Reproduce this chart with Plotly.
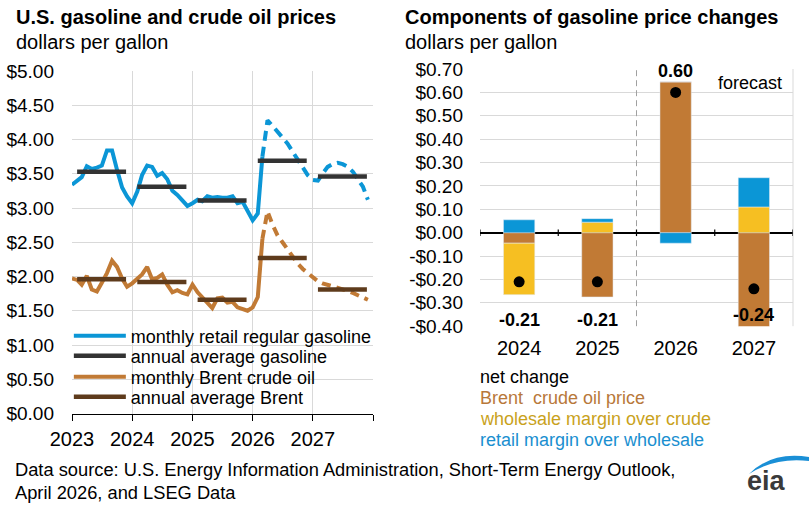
import pandas as pd
import plotly.graph_objects as go

# monthly prices, Jan 2023 - Dec 2027, dollars per gallon
gasoline = [
    3.34, 3.39, 3.45, 3.61, 3.57, 3.59, 3.62, 3.84, 3.84, 3.56, 3.30, 3.17,
    3.07, 3.24, 3.48, 3.62, 3.60, 3.47, 3.51, 3.42, 3.25, 3.19, 3.10, 3.03,
    3.07, 3.12, 3.10, 3.17, 3.15, 3.16, 3.15, 3.15, 3.17, 3.07, 3.09, 2.97,
    2.82, 2.92, 3.75, 4.28, 4.20, 4.11, 4.03, 3.94, 3.82, 3.70, 3.58, 3.48,
    3.41, 3.40, 3.50, 3.60, 3.64, 3.66, 3.64, 3.60, 3.53, 3.42, 3.31, 3.12,
]
brent = [
    1.97, 1.95, 1.88, 2.01, 1.81, 1.78, 1.91, 2.05, 2.23, 2.14, 1.97, 1.85,
    1.90, 1.97, 2.03, 2.14, 1.96, 1.98, 2.03, 1.88, 1.77, 1.80, 1.76, 1.74,
    1.88, 1.77, 1.70, 1.61, 1.54, 1.68, 1.69, 1.62, 1.63, 1.55, 1.53, 1.50,
    1.55, 1.70, 2.55, 2.95, 2.76, 2.60, 2.50, 2.39, 2.28, 2.19, 2.11, 2.05,
    1.99, 1.93, 1.90, 1.88, 1.86, 1.84, 1.82, 1.79, 1.76, 1.73, 1.69, 1.66,
]
last_history = 38  # March 2026

years = [2023, 2024, 2025, 2026, 2027]
gasoline_annual = [3.53, 3.31, 3.11, 3.69, 3.46]
brent_annual = [1.96, 1.92, 1.66, 2.27, 1.81]

# components of the year-over-year change in gasoline price
change_years = ["2024", "2025", "2026", "2027"]
brent_part = [-0.045, -0.275, 0.645, -0.475]
wholesale_part = [-0.22, 0.045, 0.0, 0.11]
retail_part = [0.055, 0.015, -0.045, 0.125]
net_change = [-0.21, -0.21, 0.60, -0.24]

BLUE = "#0b96d6"
GRAY = "#333333"
BROWN = "#c17a35"
DARK_BROWN = "#5e3b1c"
YELLOW = "#f6bf22"
GRID = "#d9d9d9"
FONT = "Liberation Sans, Arial, sans-serif"

W, H = 810, 515


def px(x, y):
    return f"{x / W:.4f},{1 - y / H:.4f}"


months = pd.date_range("2023-01-01", periods=len(gasoline), freq="MS")


def annual_segments(values):
    xs, ys = [], []
    for yr, v in zip(years, values):
        xs += [f"{yr}-02-01", f"{yr}-11-25", None]
        ys += [v, v, None]
    return xs, ys


fig = go.Figure()

gx, gy = annual_segments(gasoline_annual)
bx, by = annual_segments(brent_annual)

fig.add_trace(go.Scatter(x=months[:last_history + 1], y=brent[:last_history + 1], mode="lines",
                         line=dict(color=BROWN, width=4), name="monthly Brent crude oil",
                         legend="legend3"))
fig.add_trace(go.Scatter(x=months[last_history:], y=brent[last_history:], mode="lines",
                         line=dict(color=BROWN, width=4, dash="9px,6px"), showlegend=False))
fig.add_trace(go.Scatter(x=bx, y=by, mode="lines", line=dict(color=DARK_BROWN, width=4.5),
                         name="annual average Brent", legend="legend4"))
fig.add_trace(go.Scatter(x=months[:last_history + 1], y=gasoline[:last_history + 1], mode="lines",
                         line=dict(color=BLUE, width=4), name="monthly retail regular gasoline",
                         legend="legend"))
fig.add_trace(go.Scatter(x=months[last_history:], y=gasoline[last_history:], mode="lines",
                         line=dict(color=BLUE, width=4, dash="10px,6px"), showlegend=False))
fig.add_trace(go.Scatter(x=gx, y=gy, mode="lines", line=dict(color=GRAY, width=4.5),
                         name="annual average gasoline", legend="legend2"))

# right panel: stacked components
fig.add_trace(go.Bar(x=change_years, y=brent_part, marker_color=BROWN, width=0.4,
                     xaxis="x2", yaxis="y2", showlegend=False))
fig.add_trace(go.Bar(x=change_years, y=wholesale_part, marker_color=YELLOW, width=0.4,
                     xaxis="x2", yaxis="y2", showlegend=False))
fig.add_trace(go.Bar(x=change_years, y=retail_part, marker_color=BLUE, width=0.4,
                     xaxis="x2", yaxis="y2", showlegend=False))
fig.add_trace(go.Scatter(x=change_years, y=net_change, mode="markers",
                         marker=dict(color="black", size=11), xaxis="x2", yaxis="y2",
                         showlegend=False, cliponaxis=False))

legend_style = dict(font=dict(size=18, family=FONT, color="black"), bgcolor="rgba(0,0,0,0)",
                    itemwidth=52, xanchor="left", yanchor="middle", x=0.085)
row_y = [336, 356, 377, 397]

y_left = [i * 0.5 for i in range(11)]
y_right = [round(-0.4 + i * 0.1, 2) for i in range(12)]

fig.update_layout(
    width=W, height=H, autosize=False,
    margin=dict(l=0, r=0, t=0, b=0),
    paper_bgcolor="white", plot_bgcolor="white",
    font=dict(family=FONT, color="black"),
    barmode="relative",
    legend=dict(legend_style, y=1 - row_y[0] / H),
    legend2=dict(legend_style, y=1 - row_y[1] / H),
    legend3=dict(legend_style, y=1 - row_y[2] / H),
    legend4=dict(legend_style, y=1 - row_y[3] / H),
    xaxis=dict(domain=[72 / W, 373 / W], anchor="y", type="date", automargin=False,
               range=["2023-01-01", "2028-01-01"],
               tickvals=[f"{y}-01-01" for y in years + [2028]],
               ticktext=[str(y) for y in years] + [""],
               showgrid=True, gridcolor=GRID, gridwidth=1,
               showline=True, linecolor="black", linewidth=1,
               ticks="outside", ticklen=6, tickcolor="black",
               tickfont=dict(size=20), ticklabelstandoff=1),
    yaxis=dict(domain=[1 - 413.5 / H, 1 - 71 / H], anchor="x", range=[0, 5], automargin=False,
               tickvals=y_left, ticktext=[f"${v:.2f}" for v in y_left],
               showgrid=True, gridcolor=GRID, zeroline=False,
               tickfont=dict(size=19), ticklabelstandoff=17),
    xaxis2=dict(domain=[480 / W, 793 / W], anchor="y2", type="category", automargin=False,
                range=[-0.5, 3.5], showgrid=False, ticks="",
                tickfont=dict(size=20), ticklabelstandoff=8),
    yaxis2=dict(domain=[1 - 326.2 / H, 1 - 69 / H], anchor="x2", range=[-0.4, 0.7],
                automargin=False, tickvals=y_right,
                ticktext=[("-$" if v < 0 else "$") + f"{abs(v):.2f}" for v in y_right],
                showgrid=True, gridcolor=GRID,
                zeroline=True, zerolinecolor="black", zerolinewidth=1.5,
                tickfont=dict(size=19), ticklabelstandoff=16),
)

shapes = [
    dict(type="line", xref="x2 domain", yref="y2 domain", x0=1, x1=1, y0=0, y1=1,
         line=dict(color=GRID, width=1)),
    dict(type="line", xref="x2", yref="y2 domain", x0=1.5, x1=1.5, y0=0, y1=1,
         line=dict(color="#a0a0a0", width=1, dash="6px,4px")),
    dict(type="path", xref="paper", yref="paper",
         path=f"M{px(749, 474)} Q{px(772, 451)} {px(809, 457)} L{px(809, 461)} "
              f"Q{px(775, 457)} {px(749, 474)} Z",
         fillcolor="#1a8fd6", line=dict(width=0)),
]
for b in [-0.5, 0.5, 1.5, 2.5, 3.5]:
    shapes.append(dict(type="line", xref="x2", yref="y2", x0=b, x1=b, y0=-0.014, y1=0.014,
                       line=dict(color="black", width=1.2)))
fig.update_layout(shapes=shapes)

ann = []


def text(x, y, s, size=18, color="black", bold=False, anchor="left"):
    ann.append(dict(xref="paper", yref="paper", x=x / W, y=1 - y / H, text=f"<b>{s}</b>" if bold else s,
                    showarrow=False, xanchor=anchor, yanchor="middle",
                    font=dict(size=size, color=color, family=FONT)))


text(14, 17, "U.S. gasoline and crude oil prices", size=20, bold=True)
text(14, 42, "dollars per gallon", size=20)
text(403, 17, "Components of gasoline price changes", size=20, bold=True)
text(403, 42, "dollars per gallon", size=20)
text(750, 83, "forecast", anchor="center")
text(478, 377, "net change")
text(478, 398, "Brent\u00a0 crude oil price", color="#b8783a")
text(478, 419, "wholesale margin over crude", color="#c9a21c")
text(478, 440, "retail margin over wholesale", color="#1a8fd0")
text(13, 469, "Data source: U.S. Energy Information Administration, Short-Term Energy Outlook,",
     size=18.3)
text(13, 492, "April 2026, and LSEG Data", size=18.3)
text(766, 481, "eia", size=27, color="#3a3a3a", bold=True, anchor="center")

# net change labels; category axis positions are given by index
label_y = [-0.375, -0.375, 0.69, -0.35]
for i, (v, ly) in enumerate(zip(net_change, label_y)):
    ann.append(dict(xref="x2", yref="y2", x=i, y=ly, text=f"<b>{v:.2f}</b>",
                    showarrow=False, font=dict(size=18, color="black", family=FONT)))

fig.update_layout(annotations=ann)

fig.write_html("out.html", config={"displayModeBar": False},
               post_script="document.body.style.margin = '0';")
